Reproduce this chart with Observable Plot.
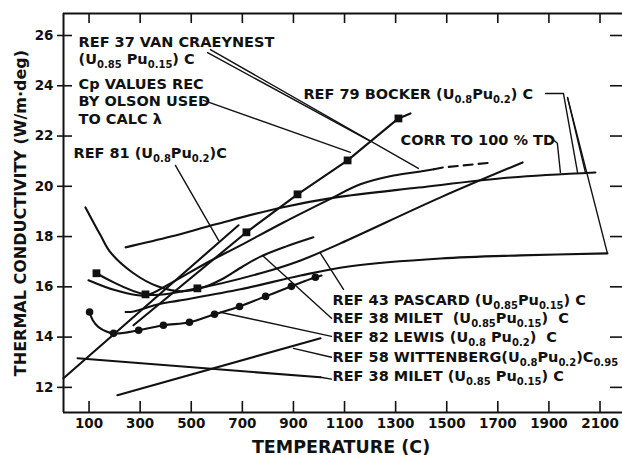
<!DOCTYPE html>
<html>
<head>
<meta charset="utf-8">
<script src="https://cdn.jsdelivr.net/npm/d3@7"></script>
<script src="https://cdn.jsdelivr.net/npm/@observablehq/plot@0.6"></script>
<style>
  html, body { margin: 0; padding: 0; background: #fff; }
  #chart svg { display: block; }
</style>
</head>
<body>
<div id="chart"></div>
<script>
// ---------- axes ----------
const xTicks = [100, 300, 500, 700, 900, 1100, 1300, 1500, 1700, 1900, 2100];
const yTicks = [12, 14, 16, 18, 20, 22, 24, 26];
const xDomain = [0, 2188];
const yDomain = [11, 26.875];

// ---------- data curves [temperature C, conductivity W/m·deg] ----------
const ref37VanCraeynest = [[98,16.26],[204,15.86],[321,15.66],[419,16.14],[556,16.93],[693,17.65],[861,18.56],[1033,19.44],[1162,20.08],[1292,20.43],[1397,20.59],[1450,20.68]];
const ref37Extrapolated = [[1450,20.68],[1487,20.75],[1683,20.95]];
const ref37OlsonCp = [[274,14.47],[716,18.17],[916,19.68],[1112,21.03],[1311,22.70],[1358,22.90]];
const ref37OlsonCpPoints = [[716,18.17],[916,19.68],[1112,21.03],[1311,22.70]];
const ref79Bocker = [[243,15.0],[275,15.02],[368,15.3],[450,15.45],[693,15.9],[928,16.45],[1123,16.82],[1476,17.13],[1789,17.25],[2129,17.33]];
const ref79Corrected = [[243,17.57],[420,18.0],[600,18.5],[850,19.15],[1060,19.55],[1390,19.95],[1750,20.35],[2082,20.55]];
const ref81 = [[0,12.36],[685,18.45]];
const ref43Pascard = [[129,16.54],[321,15.70],[524,15.94],[771,16.54],[928,17.05],[1084,17.73],[1476,19.56],[1797,20.95]];
const ref43PascardPoints = [[129,16.54],[321,15.70],[524,15.94]];
const ref38MiletA = [[86,19.16],[145,18.05],[184,17.37],[274,16.54],[368,16.02],[458,15.82],[540,15.95],[620,16.3],[700,16.8],[771,17.2],[870,17.6],[978,17.97]];
const ref82Lewis = [[102,15.0],[114,14.68],[137,14.4],[196,14.15],[294,14.27],[391,14.47],[493,14.59],[591,14.91],[689,15.22],[791,15.62],[892,16.02],[986,16.38],[1010,16.45]];
const ref82LewisPoints = [[102,15.0],[196,14.15],[294,14.27],[391,14.47],[493,14.59],[591,14.91],[689,15.22],[791,15.62],[892,16.02],[986,16.38]];
const ref58Wittenberg = [[211,11.69],[1006,13.95]];
const ref38MiletB = [[55,13.16],[1006,12.40]];

// ---------- leader lines ----------
const leaderVanCraeynestA = [[575,25.44],[1389,20.71]];
const leaderVanCraeynestB = [[564,25.32],[1202,21.79]];
const leaderOlson = [[548,23.42],[1123,21.35]];
const leaderRef81 = [[438,20.83],[607,17.85]];
const leaderRef79A = [[1887,23.69],[1957,23.69],[2012,20.55]];
const leaderRef79B = [[1973,23.53],[2043,20.55]];
const leaderRef79C = [[1973,23.53],[2129,17.33]];
const leaderCorr = [[1898,22.02],[1933,21.71],[1945,20.55]];
const leaderPascard = [[1006,17.33],[1096,15.9]];
const leaderMiletA = [[779,17.25],[1049,14.75]];
const leaderLewis = [[614,14.99],[1049,14.03]];
const leaderWittenberg = [[900,13.55],[1049,13.2]];
const leaderMiletB = [[1006,12.40],[1049,12.33]];

// ---------- labels ----------
const labelText = [
  "REF 37 VAN CRAEYNEST",
  "(U_{0.85} Pu_{0.15}) C",
  "Cp VALUES REC",
  "BY OLSON USED",
  "TO CALC λ",
  "REF 81 (U_{0.8}Pu_{0.2})C",
  "REF 79 BOCKER (U_{0.8}Pu_{0.2}) C",
  "CORR TO 100 % TD",
  "REF 43 PASCARD (U_{0.85}Pu_{0.15}) C",
  "REF 38 MILET  (U_{0.85}Pu_{0.15})  C",
  "REF 82 LEWIS (U_{0.8} Pu_{0.2})  C",
  "REF 58 WITTENBERG(U_{0.8}Pu_{0.2})C_{0.95}",
  "REF 38 MILET (U_{0.85} Pu_{0.15}) C"
];
const labelT = [59, 59, 59, 59, 59, 39, 939, 1319, 1053, 1053, 1053, 1053, 1053];
const labelK = [25.56, 24.85, 23.89, 23.18, 22.46, 21.11, 23.46, 21.63, 15.26, 14.55, 13.79, 13.0, 12.26];

// ---------- build ----------
const W = 622, H = 455, mL = 63, mR = 0, mT = 13, mB = 43;
const pxPerT = (W - mL - mR) / (xDomain[1] - xDomain[0]);
const pxPerK = (H - mT - mB) / (yDomain[1] - yDomain[0]);
const tx = px => px / pxPerT;
const ty = px => px / pxPerK;

const INK = "#111";
const X = d => d[0], Y = d => d[1];
const dataLine = (arr, extra = {}) => Plot.line(arr, {x: X, y: Y, stroke: INK, strokeWidth: 2.1, curve: "catmull-rom", ...extra});
const leader = arr => Plot.line(arr, {x: X, y: Y, stroke: INK, strokeWidth: 1.4});
const labels = labelText.map((t, i) => ({t, T: labelT[i], k: labelK[i]}));

const svg = Plot.plot({
  width: W, height: H,
  marginLeft: mL, marginRight: mR, marginTop: mT, marginBottom: mB,
  x: {domain: xDomain},
  y: {domain: yDomain},
  style: {fontFamily: "DejaVu Sans", fontSize: "14px", color: INK, background: "white"},
  marks: [
    // frame
    Plot.ruleX([xDomain[0]], {y1: yDomain[0], y2: yDomain[1], stroke: INK, strokeWidth: 2}),
    Plot.ruleY([yDomain[0]], {x1: xDomain[0], x2: xDomain[1], stroke: INK, strokeWidth: 2}),
    Plot.ruleY([yDomain[1]], {x1: xDomain[0], x2: xDomain[1], stroke: INK, strokeWidth: 2}),
    // inward ticks
    Plot.ruleX(xTicks, {x: d => d, y1: yDomain[0], y2: yDomain[0] + ty(11), stroke: INK, strokeWidth: 1.6}),
    Plot.ruleX(xTicks, {x: d => d, y1: yDomain[1], y2: yDomain[1] - ty(10), stroke: INK, strokeWidth: 1.6}),
    Plot.ruleY(yTicks, {y: d => d, x1: xDomain[0] - tx(6), x2: xDomain[0] + tx(9), stroke: INK, strokeWidth: 1.6}),
    Plot.ruleY(yTicks, {y: d => d, x1: xDomain[1] - tx(12), x2: xDomain[1], stroke: INK, strokeWidth: 1.6}),
    // tick labels
    Plot.axisX({ticks: xTicks, tickSize: 0, tickPadding: 6, tickFormat: d => String(d), fontSize: 13.5, fontWeight: "bold", label: null}),
    Plot.axisY({ticks: yTicks, tickSize: 0, tickPadding: 10, tickFormat: d => String(d), fontSize: 13.5, fontWeight: "bold", label: null}),
    // axis titles
    Plot.text(["TEMPERATURE (C)"], {frameAnchor: "bottom", dy: 40, dx: -2, textAnchor: "middle", lineAnchor: "bottom", fontSize: 17.5, fontWeight: "bold", fill: INK}),
    Plot.text(["THERMAL CONDUCTIVITY (W/m·deg)"], {frameAnchor: "left", dx: -43, dy: 0, rotate: -90, textAnchor: "middle", lineAnchor: "middle", fontSize: 16, fontWeight: "bold", fill: INK}),
    // data curves
    dataLine(ref37VanCraeynest),
    dataLine(ref37Extrapolated, {strokeDasharray: "9,6", curve: "linear"}),
    dataLine(ref37OlsonCp, {curve: "linear"}),
    dataLine(ref79Bocker),
    dataLine(ref79Corrected),
    dataLine(ref81, {curve: "linear"}),
    dataLine(ref43Pascard),
    dataLine(ref38MiletA),
    dataLine(ref82Lewis),
    dataLine(ref58Wittenberg, {curve: "linear"}),
    dataLine(ref38MiletB, {curve: "linear"}),
    // markers
    Plot.dot(ref37OlsonCpPoints, {x: X, y: Y, symbol: "square", r: 4.4, fill: INK}),
    Plot.dot(ref43PascardPoints, {x: X, y: Y, symbol: "square", r: 4.4, fill: INK}),
    Plot.dot(ref82LewisPoints, {x: X, y: Y, symbol: "circle", r: 3.8, fill: INK}),
    // leaders
    leader(leaderVanCraeynestA), leader(leaderVanCraeynestB), leader(leaderOlson),
    leader(leaderRef81), leader(leaderRef79A), leader(leaderRef79B), leader(leaderRef79C),
    leader(leaderCorr), leader(leaderPascard), leader(leaderMiletA), leader(leaderLewis),
    leader(leaderWittenberg), leader(leaderMiletB),
    // labels
    Plot.text(labels, {x: "T", y: "k", text: "t", textAnchor: "start", lineAnchor: "bottom", fontSize: 14.5, fontWeight: "bold", fill: INK})
  ]
});

// turn _{...} markup into real subscript tspans
svg.querySelectorAll("text").forEach(t => {
  const s = t.textContent;
  if (!s.includes("_{")) return;
  while (t.firstChild) t.removeChild(t.firstChild);
  const re = /_\{([^}]*)\}/g;
  let last = 0, m, shifted = false;
  const add = (str, sub) => {
    const ts = document.createElementNS("http://www.w3.org/2000/svg", "tspan");
    ts.textContent = str;
    if (sub) { ts.setAttribute("font-size", "10"); if (!shifted) ts.setAttribute("dy", "3.8"); shifted = true; }
    else if (shifted) { ts.setAttribute("dy", "-3.8"); shifted = false; }
    t.appendChild(ts);
  };
  while ((m = re.exec(s))) {
    if (m.index > last) add(s.slice(last, m.index), false);
    add(m[1], true);
    last = re.lastIndex;
  }
  if (last < s.length) add(s.slice(last), false);
});

document.getElementById("chart").appendChild(svg);
</script>
</body>
</html>
